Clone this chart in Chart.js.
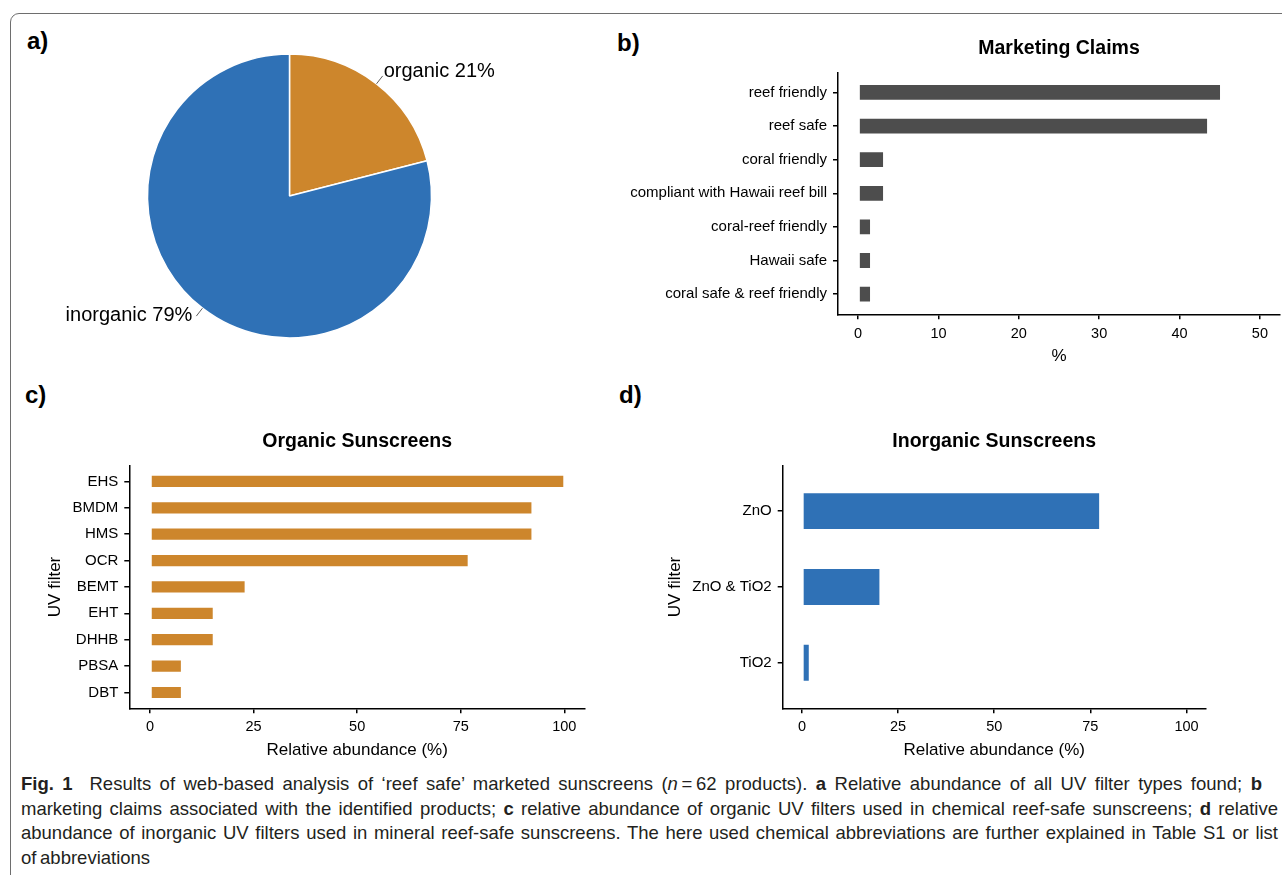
<!DOCTYPE html>
<html lang="en">
<head>
<meta charset="UTF-8" />
<title>Fig. 1 reef safe sunscreens</title>
<script src="https://cdn.jsdelivr.net/npm/chart.js@4"></script>
<style>
  body { margin: 0; width: 1282px; height: 875px; overflow: hidden; background: #fff; position: relative;
         font-family: "Liberation Sans", Arial, sans-serif; color: #000; }
  .frame { position: absolute; left: 10px; top: 13px; width: 1330px; height: 930px;
           border: 1px solid #6e6e6e; border-radius: 9px; }
  canvas { position: absolute; }
  .tag { position: absolute; font-weight: bold; font-size: 24px; line-height: 24px; }
  .caption { position: absolute; left: 21px; top: 772px; font-size: 18.5px; line-height: 24.5px; color: #231f20;
             word-spacing: -1.5px; }
  .caption div { text-align: justify; text-align-last: justify; }
  .caption div.last { text-align-last: left; }
</style>
</head>
<body>
<div class="frame"></div>

<div class="tag" style="left:27px; top:29px;">a)</div>
<div class="tag" style="left:617px; top:31px;">b)</div>
<div class="tag" style="left:25px; top:383px;">c)</div>
<div class="tag" style="left:619px; top:383px;">d)</div>

<canvas id="pie" width="539" height="332" style="left:20px; top:30px;"></canvas>
<canvas id="claims" width="700" height="360" style="left:600px; top:20px;"></canvas>
<canvas id="organic" width="580" height="390" style="left:20px; top:380px;"></canvas>
<canvas id="inorganic" width="630" height="390" style="left:620px; top:380px;"></canvas>

<div class="caption">
  <div class="just" style="width:1241px;"><b>Fig. 1</b>&nbsp; Results of web-based analysis of ‘reef safe’ marketed sunscreens (<i>n</i>&#8201;=&#8201;62 products). <b>a</b> Relative abundance of all UV filter types found; <b>b</b></div>
  <div class="just" style="width:1257px;">marketing claims associated with the identified products; <b>c</b> relative abundance of organic UV filters used in chemical reef-safe sunscreens; <b>d</b> relative</div>
  <div class="just" style="width:1257px;">abundance of inorganic UV filters used in mineral reef-safe sunscreens. The here used chemical abbreviations are further explained in Table S1 or list</div>
  <div class="last">of abbreviations</div>
</div>

<script>
  // a) share of UV filter types (%)
  const pieLabels = ["organic", "inorganic"];
  const pieValues = [21, 79];

  // b) marketing claims (% of 62 products)
  const claimLabels = ["reef friendly", "reef safe", "coral friendly", "compliant with Hawaii reef bill",
                       "coral-reef friendly", "Hawaii safe", "coral safe & reef friendly"];
  const claimValues = [45.16, 43.55, 3.23, 3.23, 1.61, 1.61, 1.61];

  // c) organic UV filters (relative abundance %)
  const organicLabels = ["EHS", "BMDM", "HMS", "OCR", "BEMT", "EHT", "DHHB", "PBSA", "DBT"];
  const organicValues = [100, 92.31, 92.31, 76.92, 23.08, 15.38, 15.38, 7.69, 7.69];

  // d) inorganic UV filters (relative abundance %)
  const inorganicLabels = ["ZnO", "ZnO & TiO2", "TiO2"];
  const inorganicValues = [77.55, 20.41, 2.04];

  const ORANGE = "#cd862c";
  const BLUE = "#2f71b6";
  const GREY = "#4d4d4d";

  // caption lines must not wrap: tighten word spacing until each one fits
  document.querySelectorAll(".caption .just").forEach((el) => {
    let ws = -1.5;
    while (el.offsetHeight > 30 && ws > -6) {
      ws -= 0.25;
      el.style.wordSpacing = ws + "px";
    }
  });

  Chart.defaults.font.family = '"Liberation Sans", Arial, sans-serif';
  Chart.defaults.color = "#000";
  Chart.defaults.animation = false;
  Chart.defaults.plugins.legend.display = false;
  Chart.defaults.plugins.tooltip.enabled = false;

  // labels with a short leader line outside each slice
  const pieLabelPlugin = {
    id: "pieLabels",
    afterDatasetsDraw(chart) {
      const ctx = chart.ctx;
      const arcs = chart.getDatasetMeta(0).data;
      ctx.save();
      ctx.font = '20px "Liberation Sans", Arial, sans-serif';
      ctx.fillStyle = "#000";
      ctx.strokeStyle = "#333";
      ctx.lineWidth = 0.8;
      arcs.forEach((arc, i) => {
        const p = arc.getProps(["x", "y", "startAngle", "endAngle", "outerRadius"], true);
        const mid = (p.startAngle + p.endAngle) / 2;
        const c = Math.cos(mid), s = Math.sin(mid);
        const x1 = p.x + c * p.outerRadius, y1 = p.y + s * p.outerRadius;
        const x2 = p.x + c * (p.outerRadius + 10), y2 = p.y + s * (p.outerRadius + 10);
        ctx.beginPath();
        ctx.moveTo(x1, y1);
        ctx.lineTo(x2, y2);
        ctx.stroke();
        const right = c >= 0;
        ctx.textAlign = right ? "left" : "right";
        ctx.textBaseline = "alphabetic";
        ctx.fillText(pieLabels[i] + " " + pieValues[i] + "%", x2 + (right ? 1 : -4), y2 + (s < 0 ? 1 : 5));
      });
      ctx.restore();
    }
  };

  new Chart(document.getElementById("pie"), {
    type: "pie",
    data: {
      labels: pieLabels,
      datasets: [{ data: pieValues, backgroundColor: [ORANGE, BLUE], borderColor: "#fff", borderWidth: 1.5 }]
    },
    options: { responsive: false, radius: 142, layout: { padding: 0 } },
    plugins: [pieLabelPlugin]
  });

  // horizontal bar panel, y is a linear index axis so the ends get ggplot-like 0.6 padding
  function barPanel(id, cats, vals, color, x, box) {
    const n = cats.length;
    const axisLine = { display: true, color: "#000", width: 1.5 };
    const tickGrid = { display: true, drawOnChartArea: false, drawTicks: true, tickLength: 5,
                       color: "#000", lineWidth: 1.5, offset: false };
    return new Chart(document.getElementById(id), {
      type: "bar",
      data: {
        datasets: [{
          data: vals.map((v, i) => ({ x: v, y: i })),
          backgroundColor: color,
          borderColor: "rgba(255,255,255,0.5)",
          borderWidth: 1,
          borderSkipped: false,
          categoryPercentage: 1,
          barPercentage: 0.5
        }]
      },
      options: {
        indexAxis: "y",
        responsive: false,
        layout: { padding: box.padding },
        plugins: {
          title: { display: true, text: box.title, fullSize: false, color: "#000",
                   font: { size: 19.5, weight: "bold" }, padding: box.titlePad }
        },
        scales: {
          x: {
            type: "linear", min: x.min, max: x.max, offset: false,
            ticks: { stepSize: x.step, includeBounds: false, font: { size: 14.5 }, padding: box.xTickPad },
            grid: tickGrid, border: axisLine,
            title: { display: true, text: box.xTitle, font: { size: 17 }, padding: 0 },
            afterFit: (s) => { s.height = box.xHeight; }
          },
          y: {
            type: "linear", reverse: true, min: -0.6, max: n - 0.4, offset: false,
            ticks: { stepSize: 1, includeBounds: false, font: { size: 15 }, padding: 6,
                     callback: (v) => cats[v] },
            grid: tickGrid, border: axisLine,
            title: box.yTitle
              ? { display: true, text: box.yTitle, font: { size: 17 }, padding: { top: box.yTitlePad, bottom: 0 } }
              : { display: false },
            afterFit: (s) => { s.width = box.yWidth; }
          }
        }
      }
    });
  }

  barPanel("claims", claimLabels, claimValues, GREY, { min: -2.5, max: 52.5, step: 10 }, {
    title: "Marketing Claims", xTitle: "%",
    padding: { left: 0, right: 20, top: 0, bottom: 13.1 },
    titlePad: { top: 16.6, bottom: 12.3 },
    yWidth: 238, xHeight: 52.6, xTickPad: 5.8
  });

  barPanel("organic", organicLabels, organicValues, ORANGE, { min: -5, max: 105, step: 25 }, {
    title: "Organic Sunscreens", xTitle: "Relative abundance (%)", yTitle: "UV filter",
    padding: { left: 0, right: 15, top: 0, bottom: 9.3 },
    titlePad: { top: 50, bottom: 12.2 },
    yWidth: 109.3, yTitlePad: 25.1, xHeight: 52.4, xTickPad: 4.7
  });

  barPanel("inorganic", inorganicLabels, inorganicValues, BLUE, { min: -5, max: 105, step: 25 }, {
    title: "Inorganic Sunscreens", xTitle: "Relative abundance (%)", yTitle: "UV filter",
    padding: { left: 0, right: 44.3, top: 0, bottom: 9.3 },
    titlePad: { top: 50, bottom: 12.2 },
    yWidth: 162.7, yTitlePad: 45.6, xHeight: 52.4, xTickPad: 4.7
  });
</script>
</body>
</html>
